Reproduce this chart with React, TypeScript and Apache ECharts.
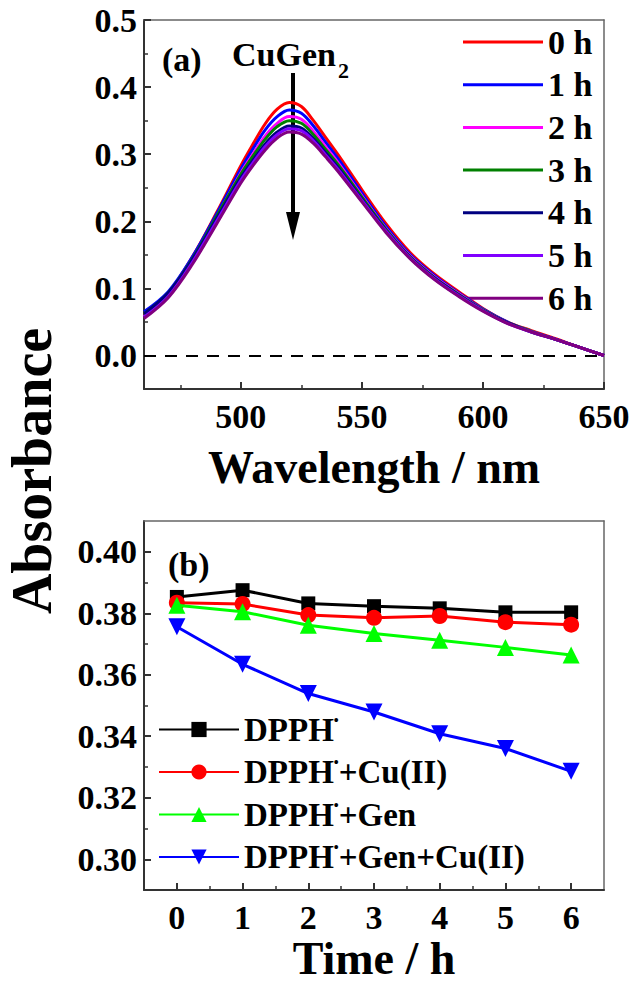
import React, { useEffect, useRef } from "react";
import * as echarts from "echarts";

// ---------- Panel (a): UV-Vis spectra of CuGen2 over time ----------
const wavelengths = [460, 470, 480, 490, 500, 505, 510, 515, 520, 525, 530, 535, 540, 550, 560, 570, 580, 590, 600, 610, 620, 630, 640, 650];
const spec0h = [0.062, 0.093, 0.147, 0.213, 0.283, 0.315, 0.345, 0.367, 0.377, 0.371, 0.350, 0.325, 0.300, 0.247, 0.196, 0.153, 0.121, 0.095, 0.070, 0.050, 0.037, 0.025, 0.012, 0.000];
const spec1h = [0.065, 0.095, 0.147, 0.211, 0.278, 0.308, 0.336, 0.356, 0.366, 0.361, 0.342, 0.318, 0.294, 0.242, 0.192, 0.150, 0.119, 0.093, 0.069, 0.050, 0.036, 0.024, 0.012, 0.000];
const spec2h = [0.058, 0.090, 0.142, 0.206, 0.272, 0.300, 0.327, 0.346, 0.356, 0.352, 0.334, 0.311, 0.288, 0.238, 0.189, 0.148, 0.117, 0.092, 0.068, 0.049, 0.036, 0.024, 0.012, 0.000];
const spec3h = [0.062, 0.093, 0.144, 0.207, 0.270, 0.297, 0.322, 0.341, 0.350, 0.346, 0.329, 0.307, 0.285, 0.236, 0.188, 0.147, 0.116, 0.091, 0.068, 0.049, 0.036, 0.024, 0.012, 0.000];
const spec4h = [0.062, 0.093, 0.143, 0.204, 0.265, 0.291, 0.315, 0.333, 0.342, 0.339, 0.323, 0.302, 0.281, 0.233, 0.186, 0.146, 0.115, 0.090, 0.067, 0.049, 0.035, 0.024, 0.012, 0.000];
const spec5h = [0.057, 0.088, 0.139, 0.200, 0.261, 0.287, 0.311, 0.329, 0.338, 0.335, 0.320, 0.299, 0.278, 0.231, 0.185, 0.145, 0.114, 0.089, 0.067, 0.048, 0.035, 0.024, 0.012, 0.000];
const spec6h = [0.055, 0.086, 0.136, 0.196, 0.257, 0.283, 0.306, 0.324, 0.333, 0.330, 0.316, 0.296, 0.275, 0.229, 0.183, 0.144, 0.113, 0.088, 0.066, 0.048, 0.035, 0.024, 0.012, 0.000];
const specNames = ["0 h", "1 h", "2 h", "3 h", "4 h", "5 h", "6 h"];
const specSeries = [spec0h, spec1h, spec2h, spec3h, spec4h, spec5h, spec6h];

const topXTicks = [500, 550, 600, 650];
const topXMinor = [475, 525, 575, 625];
const topYTicks = [0.0, 0.1, 0.2, 0.3, 0.4, 0.5];
const topYMinor = [0.05, 0.15, 0.25, 0.35, 0.45];

// ---------- Panel (b): DPPH absorbance vs time ----------
const times = [0, 1, 2, 3, 4, 5, 6];
const dpph = [0.3853, 0.3875, 0.3832, 0.3823, 0.3816, 0.3803, 0.3803];
const dpphCu = [0.3834, 0.3830, 0.3794, 0.3785, 0.3791, 0.3771, 0.3763];
const dpphGen = [0.3826, 0.3805, 0.3761, 0.3734, 0.3712, 0.3689, 0.3664];
const dpphGenCu = [0.3756, 0.3634, 0.3539, 0.3479, 0.3408, 0.3360, 0.3286];
const dpphNames = ["DPPH•", "DPPH•+Cu(II)", "DPPH•+Gen", "DPPH•+Gen+Cu(II)"];
const dpphSeries = [dpph, dpphCu, dpphGen, dpphGenCu];

const botXTicks = [0, 1, 2, 3, 4, 5, 6];
const botXMinor = [0.5, 1.5, 2.5, 3.5, 4.5, 5.5];
const botYTicks = [0.30, 0.32, 0.34, 0.36, 0.38, 0.40];
const botYMinor = [0.31, 0.33, 0.35, 0.37, 0.39];

// ---------- styles ----------
const FONT = "'Liberation Serif', 'Times New Roman', serif";
const specColors = ["#ff0000", "#0000ff", "#ff00ff", "#008000", "#000080", "#8000ff", "#800080"];
const dpphColors = ["#000000", "#ff0000", "#00ff00", "#0000ff"];
const dpphSymbols = ["rect", "circle", "triangle", "triangle"];
const dpphSymbolSizes = [14, 16, 17, 17];
const dpphRotate = [0, 0, 0, 180];

const tickLabel = {
  fontFamily: FONT,
  fontWeight: "bold" as const,
  fontSize: 34,
  color: "#000",
};

function mainX(gridIndex: number, min: number, max: number, ticks: number[], fmt: (v: number) => string, name: string, nameGap: number) {
  return {
    type: "value",
    gridIndex,
    min,
    max,
    position: "bottom",
    axisLine: { show: true, onZero: false, lineStyle: { color: "#333", width: 2 } },
    axisTick: { show: true, inside: true, length: 7, customValues: ticks, lineStyle: { color: "#333", width: 2 } },
    axisLabel: { show: true, customValues: ticks, margin: 10, formatter: fmt, ...tickLabel },
    splitLine: { show: false },
    name,
    nameLocation: "middle",
    nameGap,
    nameTextStyle: { fontFamily: FONT, fontWeight: "bold", fontSize: 46, color: "#000" },
  };
}
function minorX(gridIndex: number, min: number, max: number, ticks: number[]) {
  return {
    type: "value",
    gridIndex,
    min,
    max,
    position: "bottom",
    axisLine: { show: false, onZero: false },
    axisTick: { show: true, inside: true, length: 4, customValues: ticks, lineStyle: { color: "#333", width: 1.5 } },
    axisLabel: { show: false },
    splitLine: { show: false },
  };
}
function frameX(gridIndex: number, min: number, max: number) {
  return {
    type: "value",
    gridIndex,
    min,
    max,
    position: "top",
    axisLine: { show: true, onZero: false, lineStyle: { color: "#666", width: 1.5 } },
    axisTick: { show: false },
    axisLabel: { show: false },
    splitLine: { show: false },
  };
}
function mainY(gridIndex: number, min: number, max: number, ticks: number[], fmt: (v: number) => string) {
  return {
    type: "value",
    gridIndex,
    min,
    max,
    position: "left",
    axisLine: { show: true, onZero: false, lineStyle: { color: "#333", width: 2 } },
    axisTick: { show: true, inside: true, length: 7, customValues: ticks, lineStyle: { color: "#333", width: 2 } },
    axisLabel: { show: true, customValues: ticks, margin: 7, formatter: fmt, ...tickLabel },
    splitLine: { show: false },
  };
}
function minorY(gridIndex: number, min: number, max: number, ticks: number[]) {
  return {
    type: "value",
    gridIndex,
    min,
    max,
    position: "left",
    axisLine: { show: false, onZero: false },
    axisTick: { show: true, inside: true, length: 4, customValues: ticks, lineStyle: { color: "#333", width: 1.5 } },
    axisLabel: { show: false },
    splitLine: { show: false },
  };
}
function frameY(gridIndex: number, min: number, max: number) {
  return {
    type: "value",
    gridIndex,
    min,
    max,
    position: "right",
    axisLine: { show: true, onZero: false, lineStyle: { color: "#666", width: 1.5 } },
    axisTick: { show: false },
    axisLabel: { show: false },
    splitLine: { show: false },
  };
}

export default function App() {
  const ref = useRef<HTMLDivElement>(null);

  useEffect(() => {
    if (!ref.current) return;
    const chart = echarts.init(ref.current, null, { renderer: "svg" });

    const topSeries = specSeries.map((vals, i) => ({
      type: "line",
      name: specNames[i],
      xAxisIndex: 0,
      yAxisIndex: 0,
      data: wavelengths.map((w, j) => [w, vals[j]]),
      showSymbol: false,
      symbol: "none",
      smooth: 0.35,
      color: specColors[i],
      lineStyle: { color: specColors[i], width: 3 },
      z: 3 + i,
      ...(i === 0
        ? {
            markLine: {
              silent: true,
              symbol: "none",
              label: { show: false },
              lineStyle: { color: "#000", type: [12, 9], width: 2 },
              data: [{ yAxis: 0 }],
            },
          }
        : {}),
    }));

    const botSeries = dpphSeries.map((vals, i) => ({
      type: "line",
      name: dpphNames[i],
      xAxisIndex: 3,
      yAxisIndex: 3,
      data: times.map((t, j) => [t, vals[j]]),
      symbol: dpphSymbols[i],
      symbolSize: dpphSymbolSizes[i],
      symbolRotate: dpphRotate[i],
      color: dpphColors[i],
      itemStyle: { color: dpphColors[i], borderWidth: 0 },
      lineStyle: { color: dpphColors[i], width: 3 },
      z: 3 + i,
    }));

    const option = {
      animation: false,
      backgroundColor: "#fff",
      grid: [
        { left: 144, top: 20, width: 460, height: 369 },
        { left: 144, top: 521, width: 460, height: 369 },
      ],
      xAxis: [
        mainX(0, 460, 650, topXTicks, (v: number) => String(v), "Wavelength / nm", 55),
        minorX(0, 460, 650, topXMinor),
        frameX(0, 460, 650),
        mainX(1, -0.5, 6.5, botXTicks, (v: number) => String(v), "Time / h", 45),
        minorX(1, -0.5, 6.5, botXMinor),
        frameX(1, -0.5, 6.5),
      ],
      yAxis: [
        mainY(0, -0.05, 0.5, topYTicks, (v: number) => v.toFixed(1)),
        minorY(0, -0.05, 0.5, topYMinor),
        frameY(0, -0.05, 0.5),
        mainY(1, 0.29, 0.41, botYTicks, (v: number) => v.toFixed(2)),
        minorY(1, 0.29, 0.41, botYMinor),
        frameY(1, 0.29, 0.41),
      ],
      legend: [
        {
          data: specNames,
          orient: "vertical",
          left: 458,
          top: 20,
          itemWidth: 80,
          itemHeight: 3,
          icon: "rect",
          itemGap: 8.7,
          selectedMode: false,
          textStyle: { fontFamily: FONT, fontWeight: "bold", fontSize: 34, lineHeight: 33, color: "#000" },
        },
        {
          data: dpphNames,
          orient: "vertical",
          left: 153,
          top: 708,
          itemWidth: 80,
          itemHeight: 19,
          itemGap: 9.5,
          selectedMode: false,
          formatter: (name: string) => name.replace("•", "{s|•}"),
          textStyle: {
            fontFamily: FONT,
            fontWeight: "bold",
            fontSize: 33,
            lineHeight: 33,
            color: "#000",
            rich: {
              s: { fontFamily: FONT, fontWeight: "bold", fontSize: 14, lineHeight: 14, verticalAlign: "top", color: "#000" },
            },
          },
        },
      ],
      graphic: [
        {
          type: "text",
          x: 162,
          y: 59,
          style: { text: "(a)", fontFamily: FONT, fontWeight: "bold", fontSize: 34, fill: "#000", verticalAlign: "middle" },
        },
        {
          type: "text",
          x: 232,
          y: 54,
          style: { text: "CuGen", fontFamily: FONT, fontWeight: "bold", fontSize: 34, fill: "#000", verticalAlign: "middle" },
        },
        {
          type: "text",
          x: 338,
          y: 70,
          style: { text: "2", fontFamily: FONT, fontWeight: "bold", fontSize: 22, fill: "#000", verticalAlign: "middle" },
        },
        {
          type: "line",
          shape: { x1: 293, y1: 73, x2: 293, y2: 218 },
          style: { stroke: "#000", lineWidth: 4 },
        },
        {
          type: "polygon",
          shape: { points: [[286, 212], [300, 212], [293, 240]] },
          style: { fill: "#000" },
        },
        {
          type: "text",
          x: 168,
          y: 564,
          style: { text: "(b)", fontFamily: FONT, fontWeight: "bold", fontSize: 34, fill: "#000", verticalAlign: "middle" },
        },
        {
          type: "text",
          x: 32,
          y: 471,
          rotation: Math.PI / 2,
          style: { text: "Absorbance", fontFamily: FONT, fontWeight: "bold", fontSize: 56, fill: "#000", align: "center", verticalAlign: "middle" },
        },
      ],
      series: [...topSeries, ...botSeries],
    };

    chart.setOption(option as any);
    return () => chart.dispose();
  }, []);

  return (
    <div
      ref={ref}
      style={{ position: "absolute", left: 0, top: 0, width: 636, height: 997, background: "#fff" }}
    />
  );
}
